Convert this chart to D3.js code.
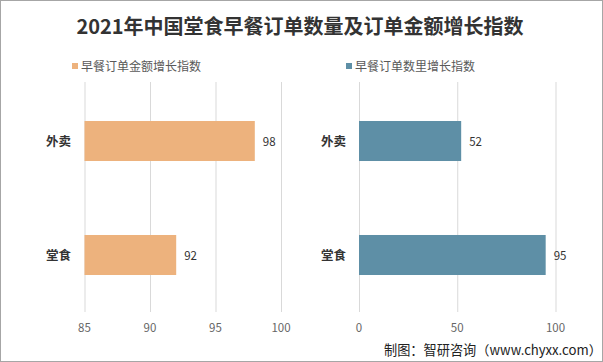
<!DOCTYPE html>
<html><head><meta charset="utf-8">
<script src="https://cdn.jsdelivr.net/npm/d3@7"></script>
<style>html,body{margin:0;padding:0;background:#fff;}svg{display:block;}</style>
</head><body>
<script>
const categories = ["外卖", "堂食"];
const amountValues = [98, 92];
const countValues = [52, 95];
const amountTicks = [85, 90, 95, 100];
const countTicks = [0, 50, 100];
const titleText = "2021年中国堂食早餐订单数量及订单金额增长指数";
const legendLeft = "早餐订单金额增长指数";
const legendRight = "早餐订单数里增长指数";
const sourceText = "制图：智研咨询（www.chyxx.com）";

const W = 603, H = 362;
const font = "'Noto Sans CJK SC', 'Noto Sans', sans-serif";
const svg = d3.select("body").append("svg").attr("width", W).attr("height", H);
svg.append("rect").attr("x", 0.5).attr("y", 0.5).attr("width", W - 1).attr("height", H - 1)
  .attr("fill", "#fff").attr("stroke", "#a6a6a6");

svg.append("text").attr("x", 300).attr("y", 34).attr("text-anchor", "middle")
  .attr("font-family", font).attr("font-weight", "bold").attr("font-size", 20)
  .attr("fill", "#333").text(titleText);

const y = d3.scaleBand().domain(categories).range([64, 332]).paddingInner(0.649).paddingOuter(0.5);

function panel(values, ticks, domain, x0, x1, color, legend, legX, labX) {
  const x = d3.scaleLinear().domain(domain).range([x0, x1]);
  const g = svg.append("g");
  g.selectAll("line.grid").data(ticks).join("line")
    .attr("x1", d => x(d) + 0.5).attr("x2", d => x(d) + 0.5)
    .attr("y1", 82).attr("y2", 312).attr("stroke", "#d9d9d9").attr("stroke-width", 1);
  g.selectAll("text.tick").data(ticks).join("text")
    .attr("x", d => x(d)).attr("y", 332).attr("text-anchor", "middle")
    .attr("font-family", font).attr("font-size", 11.5).attr("fill", "#666").text(d => d);
  g.selectAll("rect.bar").data(values).join("rect")
    .attr("x", x(domain[0])).attr("y", (d, i) => y(categories[i]))
    .attr("width", d => x(d) - x(domain[0])).attr("height", y.bandwidth()).attr("fill", color);
  g.selectAll("text.val").data(values).join("text")
    .attr("x", d => x(d) + 8).attr("y", (d, i) => y(categories[i]) + y.bandwidth() / 2 + 5)
    .attr("font-family", font).attr("font-size", 11.5).attr("fill", "#333").text(d => d);
  g.selectAll("text.cat").data(categories).join("text")
    .attr("x", labX).attr("y", d => y(d) + y.bandwidth() / 2 + 5).attr("text-anchor", "end")
    .attr("font-family", font).attr("font-weight", "bold").attr("font-size", 12.5).attr("fill", "#333").text(d => d);
  g.append("rect").attr("x", legX).attr("y", 63).attr("width", 6).attr("height", 6).attr("fill", color);
  g.append("text").attr("x", legX + 9).attr("y", 70.5).attr("font-family", font)
    .attr("font-size", 12).attr("fill", "#595959").text(legend);
}

panel(amountValues, amountTicks, [85, 100], 84.5, 281, "#edb27d", legendLeft, 72, 71);
panel(countValues, countTicks, [0, 100], 359, 555.5, "#5e8fa6", legendRight, 346, 346);

svg.append("text").attr("x", 384).attr("y", 355).attr("text-anchor", "start")
  .attr("font-family", font).attr("font-size", 13.2).attr("fill", "#222").text(sourceText);
</script>
</body></html>
